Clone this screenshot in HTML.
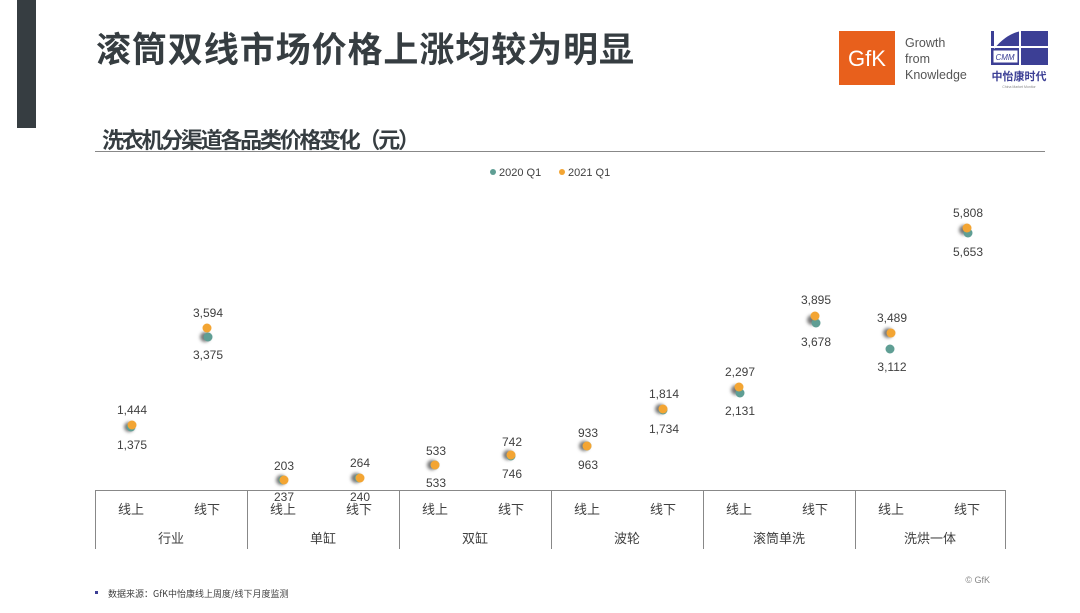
<!DOCTYPE html>
<html><head><meta charset="utf-8"><style>
body{margin:0;width:1080px;height:608px;background:#fff;overflow:hidden;font-family:"Liberation Sans","Noto Sans CJK SC",sans-serif}
</style></head><body>
<svg width="1080" height="608" viewBox="0 0 1080 608" xmlns="http://www.w3.org/2000/svg" font-family="Liberation Sans, Noto Sans CJK SC, sans-serif">
<defs><filter id="sh" x="-1" y="-1" width="3" height="3"><feGaussianBlur stdDeviation="1.5"/></filter></defs>
<rect x="17" y="0" width="19" height="128" fill="#363d41"/>
<text x="96" y="62" font-size="35" font-weight="bold" fill="#363d41" font-family="Noto Sans CJK SC, sans-serif" textLength="538">滚筒双线市场价格上涨均较为明显</text>
<text x="102" y="148" font-size="22" font-weight="bold" fill="#363d41" font-family="Noto Sans CJK SC, sans-serif" textLength="318">洗衣机分渠道各品类价格变化（元）</text>
<line x1="95" y1="151.5" x2="1045" y2="151.5" stroke="#888" stroke-width="1"/>
<!-- logos -->
<rect x="839" y="31" width="56" height="54" fill="#e8601c"/>
<text x="867" y="66" font-size="22" fill="#fff" text-anchor="middle">GfK</text>
<text x="905" y="47" font-size="12.5" fill="#555">Growth</text>
<text x="905" y="63" font-size="12.5" fill="#555">from</text>
<text x="905" y="79" font-size="12.5" fill="#555">Knowledge</text>
<rect x="991" y="31" width="57" height="34" fill="#3c3f95"/>
<path d="M991 31 h30 q-15 3 -27 18 v-18z" fill="#fff"/>
<rect x="1019" y="31" width="2" height="34" fill="#fff"/>
<rect x="991" y="46" width="57" height="2" fill="#fff"/>
<rect x="993" y="50" width="25" height="13" fill="#fff" stroke="#3c3f95"/>
<text x="1005" y="60" font-size="8" fill="#3c3f95" text-anchor="middle" font-style="italic">CMM</text>
<text x="1019" y="80" font-size="11" font-weight="bold" fill="#3c3f95" text-anchor="middle" font-family="Noto Sans CJK SC, sans-serif">中怡康时代</text>
<text x="1019" y="88" font-size="3.5" fill="#888" text-anchor="middle">China Market Monitor</text>
<!-- legend -->
<circle cx="493" cy="172" r="3" fill="#5f9e94"/><text x="499" y="176" font-size="11" fill="#404040">2020 Q1</text>
<circle cx="562" cy="172" r="3" fill="#f3a533"/><text x="568" y="176" font-size="11" fill="#404040">2021 Q1</text>
<!-- axis -->
<g stroke="#888" stroke-width="1">
<line x1="95" y1="490.5" x2="1005" y2="490.5"/>
<line x1="95.5" y1="490" x2="95.5" y2="549"/>
<line x1="247.5" y1="490" x2="247.5" y2="549"/>
<line x1="399.5" y1="490" x2="399.5" y2="549"/>
<line x1="551.5" y1="490" x2="551.5" y2="549"/>
<line x1="703.5" y1="490" x2="703.5" y2="549"/>
<line x1="855.5" y1="490" x2="855.5" y2="549"/>
<line x1="1005.5" y1="490" x2="1005.5" y2="549"/>
</g>
<g font-size="13" fill="#404040" text-anchor="middle" font-family="Noto Sans CJK SC, sans-serif">
<text x="131" y="514">线上</text><text x="207" y="514">线下</text>
<text x="283" y="514">线上</text><text x="359" y="514">线下</text>
<text x="435" y="514">线上</text><text x="511" y="514">线下</text>
<text x="587" y="514">线上</text><text x="663" y="514">线下</text>
<text x="739" y="514">线上</text><text x="815" y="514">线下</text>
<text x="891" y="514">线上</text><text x="967" y="514">线下</text>
<text x="171" y="543">行业</text><text x="323" y="543">单缸</text><text x="475" y="543">双缸</text>
<text x="627" y="543">波轮</text><text x="779" y="543">滚筒单洗</text><text x="930" y="543">洗烘一体</text>
</g>
<!-- points: x, teal y, orange y -->
<g id="pts">
<circle cx="129" cy="427" r="5" fill="#777" filter="url(#sh)"/><circle cx="131" cy="427" r="4.5" fill="#5f9e94"/><circle cx="132" cy="425" r="4.5" fill="#f3a533"/>
<circle cx="205" cy="337" r="5" fill="#777" filter="url(#sh)"/><circle cx="208" cy="337" r="4.5" fill="#5f9e94"/><circle cx="207" cy="328" r="4.5" fill="#f3a533"/>
<circle cx="281" cy="480" r="5" fill="#777" filter="url(#sh)"/><circle cx="283" cy="480" r="4.5" fill="#5f9e94"/><circle cx="284" cy="480" r="4.5" fill="#f3a533"/>
<circle cx="356" cy="478" r="5" fill="#777" filter="url(#sh)"/><circle cx="359" cy="478" r="4.5" fill="#5f9e94"/><circle cx="360" cy="478" r="4.5" fill="#f3a533"/>
<circle cx="432" cy="465" r="5" fill="#777" filter="url(#sh)"/><circle cx="435" cy="465" r="4.5" fill="#5f9e94"/><circle cx="435" cy="465" r="4.5" fill="#f3a533"/>
<circle cx="508" cy="455" r="5" fill="#777" filter="url(#sh)"/><circle cx="511" cy="456" r="4.5" fill="#5f9e94"/><circle cx="511" cy="455" r="4.5" fill="#f3a533"/>
<circle cx="584" cy="446" r="5" fill="#777" filter="url(#sh)"/><circle cx="587" cy="446" r="4.5" fill="#5f9e94"/><circle cx="587" cy="446" r="4.5" fill="#f3a533"/>
<circle cx="660" cy="409" r="5" fill="#777" filter="url(#sh)"/><circle cx="663" cy="410" r="4.5" fill="#5f9e94"/><circle cx="663" cy="409" r="4.5" fill="#f3a533"/>
<circle cx="736" cy="390" r="5" fill="#777" filter="url(#sh)"/><circle cx="740" cy="393" r="4.5" fill="#5f9e94"/><circle cx="739" cy="387" r="4.5" fill="#f3a533"/>
<circle cx="812" cy="320" r="5" fill="#777" filter="url(#sh)"/><circle cx="816" cy="323" r="4.5" fill="#5f9e94"/><circle cx="815" cy="316" r="4.5" fill="#f3a533"/>
<circle cx="888" cy="333" r="5" fill="#777" filter="url(#sh)"/><circle cx="890" cy="349" r="4.5" fill="#5f9e94"/><circle cx="891" cy="333" r="4.5" fill="#f3a533"/>
<circle cx="964" cy="230" r="5" fill="#777" filter="url(#sh)"/><circle cx="968" cy="233" r="4.5" fill="#5f9e94"/><circle cx="967" cy="228" r="4.5" fill="#f3a533"/>
</g>
<g font-size="12" fill="#404040" text-anchor="middle">
<text x="132" y="414">1,444</text><text x="132" y="449">1,375</text>
<text x="208" y="317">3,594</text><text x="208" y="359">3,375</text>
<text x="284" y="470">203</text><text x="284" y="501">237</text>
<text x="360" y="467">264</text><text x="360" y="501">240</text>
<text x="436" y="455">533</text><text x="436" y="487">533</text>
<text x="512" y="446">742</text><text x="512" y="478">746</text>
<text x="588" y="437">933</text><text x="588" y="469">963</text>
<text x="664" y="398">1,814</text><text x="664" y="433">1,734</text>
<text x="740" y="376">2,297</text><text x="740" y="415">2,131</text>
<text x="816" y="304">3,895</text><text x="816" y="346">3,678</text>
<text x="892" y="322">3,489</text><text x="892" y="371">3,112</text>
<text x="968" y="217">5,808</text><text x="968" y="256">5,653</text>
</g>
<rect x="95" y="591" width="3" height="3" fill="#3c3f95"/>
<text x="108" y="597" font-size="9" fill="#404040" font-family="Noto Sans CJK SC, sans-serif">数据来源：GfK中怡康线上周度/线下月度监测</text>
<text x="990" y="583" font-size="9" fill="#888" text-anchor="end">© GfK</text>
</svg>
</body></html>
